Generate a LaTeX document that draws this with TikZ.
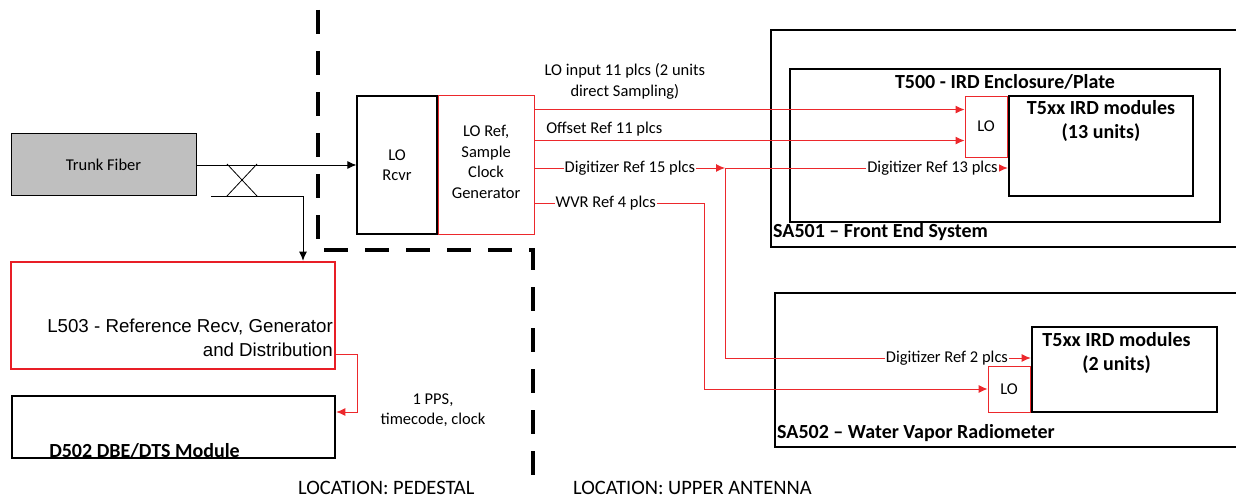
\documentclass[tikz,border=0pt]{standalone}
\usepackage{fontspec}
\setmainfont{Carlito}
\newfontfamily\arialfont{Liberation Sans}
\usepackage{xcolor}
\usepackage{tikz}
\usetikzlibrary{arrows.meta, positioning}

\definecolor{sigred}{RGB}{236,40,44}
\definecolor{boxred}{RGB}{232,30,38}
\newcommand{\txt}{\fontsize{16.5}{20.5}\selectfont}
\newcommand{\ttl}{\fontsize{20}{24}\selectfont\bfseries}

\begin{document}
\begin{tikzpicture}[x=1pt, y=-1pt]
    % Styles
    \tikzstyle{block} = [rectangle, draw, line width=1pt, inner sep=0pt, align=center, font=\txt]
    \tikzstyle{unit} = [rectangle, draw, line width=2.6pt, inner sep=0pt]
    \tikzstyle{lobox} = [rectangle, draw=sigred, line width=0.9pt, inner sep=0pt, font=\txt]
    \tikzstyle{frame} = [draw, line width=2.6pt]
    \tikzstyle{line} = [draw, -{Latex[length=9pt,width=8pt]}, line width=0.9pt]
    \tikzstyle{sig} = [line, draw=sigred]
    \tikzstyle{lbl} = [fill=white, inner sep=1pt, font=\txt, text=black]
    \tikzstyle{note} = [inner sep=0pt, font=\txt, align=center]
    \tikzstyle{title} = [inner sep=0pt, font=\ttl, align=center]
    \tikzstyle{place} = [inner sep=0pt, font=\fontsize{20.5}{24}\selectfont, anchor=base west]
    \tikzstyle{boundary} = [draw, line width=3.5pt, dash pattern=on 24pt off 17pt]

    \useasboundingbox (0,0) rectangle (1236,497);

    % Location boundary
    \draw[boundary] (318,10) -- (318,250) -- (533,250) -- (533,478);

    % Pedestal side
    \node[block, fill=gray!50, minimum width=185, minimum height=62] (trunk) at (103.5,165) {Trunk Fiber};
    \node[rectangle, draw=boxred, line width=2.6pt, minimum width=324, minimum height=107] (l503) at (173,315.5) {};
    \node[inner sep=0pt, anchor=east, align=right, font=\arialfont\fontsize{18.7}{24}\selectfont] at (333,338) {L503 - Reference Recv, Generator\\and Distribution};
    \node[unit, minimum width=323, minimum height=62] (d502) at (173.5,427) {};
    \node[title, anchor=base] at (144.5,457) {D502 DBE/DTS Module};
    \node[note] at (433,410) {1 PPS,\\timecode, clock};

    % Reference receiver
    \node[block, line width=1.2pt, minimum width=80, minimum height=138] (lorcvr) at (397,165) {LO\\Rcvr};
    \node[block, draw=sigred, minimum width=96, minimum height=138, right=0pt of lorcvr] (loref) {};
    \node[note] at ([yshift=3]loref.center) {LO Ref,\\Sample\\Clock\\Generator};

    % SA501 front end
    \draw[frame] (1237,30) -| (771,247) -- (1237,247);
    \node[title, anchor=base west] at (773,237) {SA501 -- Front End System};
    \node[unit, minimum width=430, minimum height=153] (t500) at (1005,145.5) {};
    \node[title, anchor=base] at (1005,89) {T500 - IRD Enclosure/Plate};
    \node[unit, minimum width=184, minimum height=100] (ird1) at (1101,146) {};
    \node[title, anchor=north] at ([yshift=-6]ird1.north) {T5xx IRD modules\\(13 units)};
    \node[lobox, minimum width=42, minimum height=61] (lo1) at (986,126.5) {LO};

    % SA502 water vapor radiometer
    \draw[frame] (1237,293) -| (775,447) -- (1237,447);
    \node[title, anchor=base west] at (777,438) {SA502 -- Water Vapor Radiometer};
    \node[unit, minimum width=185, minimum height=85] (ird2) at (1124.5,369.5) {};
    \node[title, anchor=north] at ([xshift=-8, yshift=-6.5]ird2.north) {T5xx IRD modules\\(2 units)};
    \node[lobox, minimum width=42, minimum height=46] (lo2) at (1009,389) {LO};

    % Fiber and coupler
    \coordinate (tap) at (211,196);
    \coordinate (drop) at (303,196);
    \draw[line] (trunk.east) -- (lorcvr.west);
    \draw[line] (tap) -- (drop) -- (drop |- l503.north);
    \draw[line width=0.8pt] (227,164) -- (257,196) (227,196) -- (257,164);

    % Reference signals
    \coordinate (split) at (725,168);
    \coordinate (wvrbend) at (704,203);
    \coordinate (ppsbend) at (357,354);
    \draw[sig] ([yshift=-14]loref.north east) -- node[note, pos=.21, above=10pt]{LO input 11 plcs (2 units\\direct Sampling)} ([yshift=-14]lo1.north west);
    \draw[sig] ([yshift=-45]loref.north east) -- node[note, pos=.162, above=4pt]{Offset Ref 11 plcs} ([yshift=-45]lo1.north west);
    \draw[sig] (loref.east |- split) -- node[lbl, pos=.5]{Digitizer Ref 15 plcs} (split);
    \draw[sig] (split) -- node[lbl, pos=.734]{Digitizer Ref 13 plcs} (split -| ird1.west);
    \draw[sig] (split) |- node[lbl, pos=.863]{Digitizer Ref 2 plcs} ([yshift=11.5]ird2.west);
    \draw[sig] (loref.east |- wvrbend) -- node[lbl, pos=.42]{WVR Ref 4 plcs} (wvrbend) |- (lo2.west);
    \draw[sig] (l503.east |- ppsbend) -- (ppsbend) |- ([yshift=15]d502.east);

    % Locations
    \node[place] at (298,494) {LOCATION: PEDESTAL};
    \node[place] at (573,494) {LOCATION: UPPER ANTENNA};
\end{tikzpicture}
\end{document}
